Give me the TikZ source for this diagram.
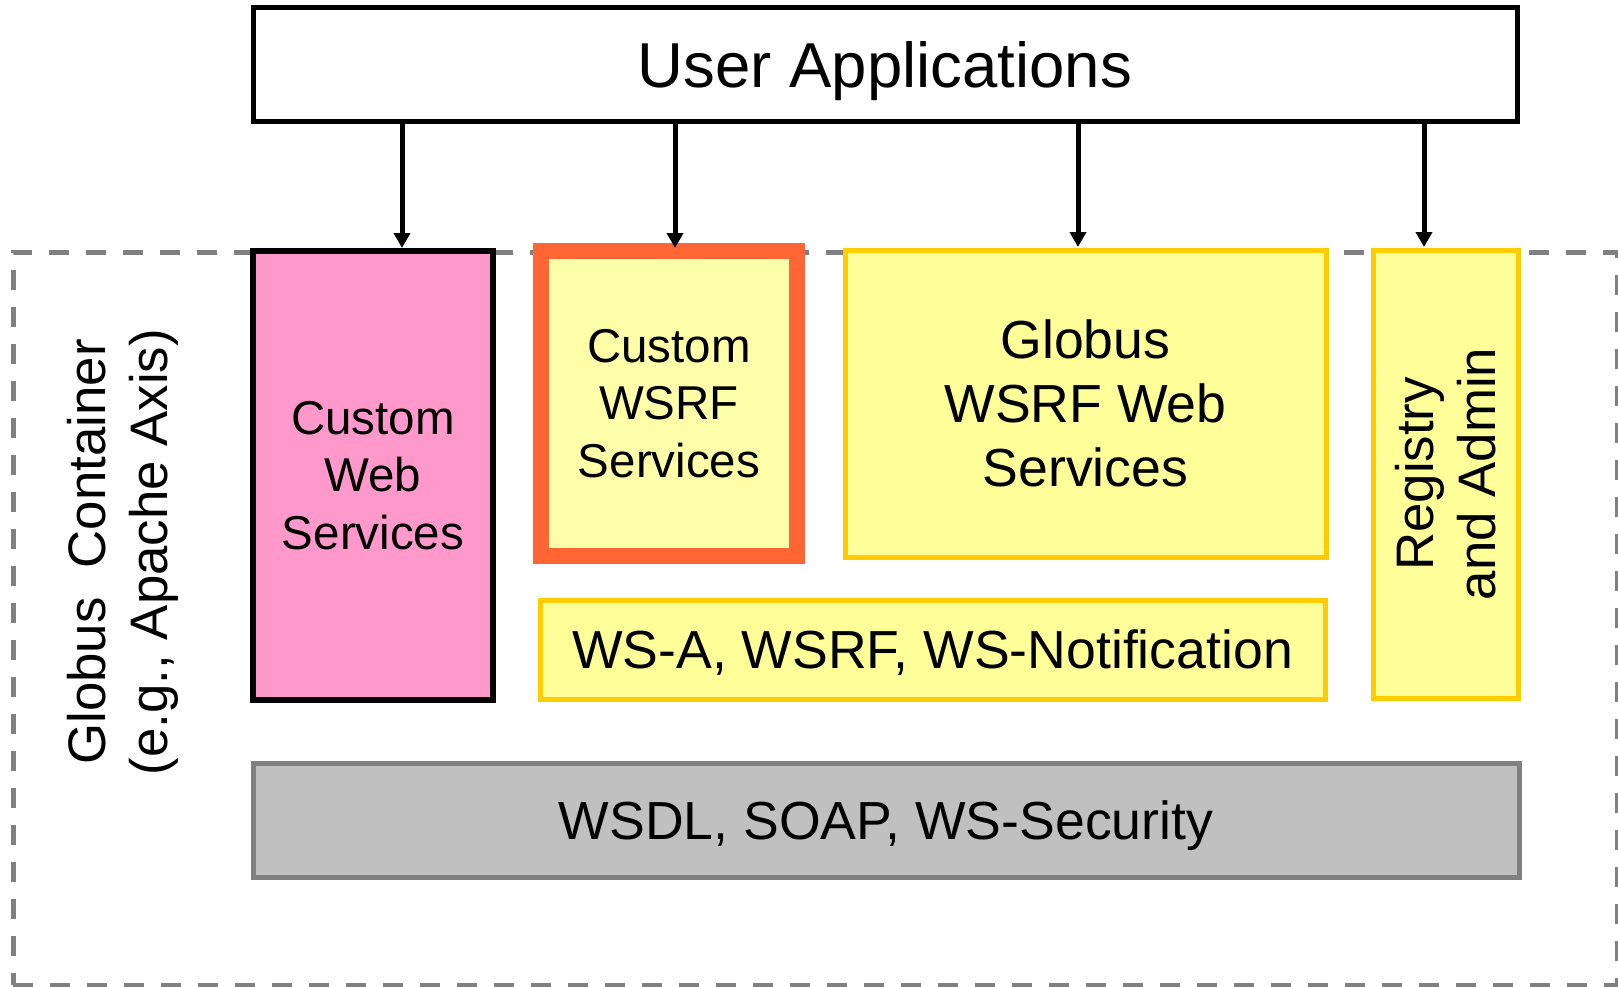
\documentclass[tikz,border=0pt]{standalone}
\usepackage{fontspec}
\setmainfont{Liberation Sans}
\usetikzlibrary{arrows.meta}
\definecolor{dashgray}{HTML}{808080}
\definecolor{pinkfill}{HTML}{FF99CC}
\definecolor{yelfill}{HTML}{FFFF99}
\definecolor{lightyel}{HTML}{FFFFAA}
\definecolor{yeldraw}{HTML}{FFCC00}
\definecolor{orangedraw}{HTML}{FF6633}
\definecolor{grayfill}{HTML}{C0C0C0}
\tikzset{
  box/.style={rectangle, outer sep=0pt, inner sep=0pt, align=center, text=black},
  yelbox/.style={box, draw=yeldraw, fill=yelfill, line width=5pt},
  arr/.style={line width=5pt, -{Triangle[length=15pt,width=16pt]}, shorten >=3pt},
  bigfont/.style={font=\fontsize{63.5}{73}\selectfont},
  midfont/.style={font=\fontsize{47.5}{57.5}\selectfont},
  stdfont/.style={font=\fontsize{53.6}{64}\selectfont},
  sidefont/.style={font=\fontsize{52.8}{62}\selectfont},
}
\begin{document}
\begin{tikzpicture}[x=1pt,y=-1pt]
\useasboundingbox (0,0) rectangle (1618,986);
\clip (0,0) rectangle (1618,986);
\fill[white] (0,0) rectangle (1618,986);
% container
\node[box, draw=dashgray, line width=5pt, dash pattern=on 20pt off 17pt,
  minimum width=1604pt, minimum height=733pt] (cont) at (815,618.5) {};
\node[box, sidefont, rotate=90] (contlbl) at (123,552) {Globus\ \ Container\\(e.g., Apache Axis)};
% user applications
\node[box, draw=black, line width=5pt, fill=white, bigfont, text depth=0pt,
  minimum width=1264pt, minimum height=114pt] (ua) at (885,64) {User Applications};
% custom web services
\node[box, draw=black, line width=5.5pt, fill=pinkfill, midfont,
  minimum width=240pt, minimum height=449pt] (cws) at (373,475.5) {Custom\\Web\\Services};
% custom wsrf
\node[box, draw=orangedraw, line width=16pt, fill=lightyel, midfont,
  minimum width=256pt, minimum height=305pt] (cwsrf) at (669,403.5) {Custom\\WSRF\\Services};
% globus wsrf
\node[yelbox, stdfont, minimum width=481pt, minimum height=307pt] (gws) at (1085.5,403.5) {Globus\\WSRF Web\\Services};
% ws-a
\node[yelbox, stdfont, text depth=0pt, minimum width=785pt, minimum height=99pt] (wsa) at (932.5,649.5) {WS-A, WSRF, WS-Notification};
% registry
\node[yelbox, sidefont, minimum width=145pt, minimum height=448pt] (reg) at (1445.5,474) {};
\node[box, sidefont, rotate=90] (reglbl) at (reg.center) {Registry\\and Admin};
% wsdl
\node[box, draw=dashgray, line width=5pt, fill=grayfill, stdfont, text depth=0pt,
  minimum width=1266pt, minimum height=114pt] (wsdl) at (886,820) {WSDL, SOAP, WS-Security};
% arrows
\coordinate (a1) at (402,0);
\coordinate (a2) at (675,0);
\coordinate (a3) at (1078,0);
\coordinate (a4) at (1424,0);
\draw[arr] (ua.south -| a1) -- (cws.north -| a1);
\draw[arr] (ua.south -| a2) -- (cwsrf.north -| a2);
\draw[arr] (ua.south -| a3) -- (gws.north -| a3);
\draw[arr] (ua.south -| a4) -- (reg.north -| a4);
\end{tikzpicture}
\end{document}
